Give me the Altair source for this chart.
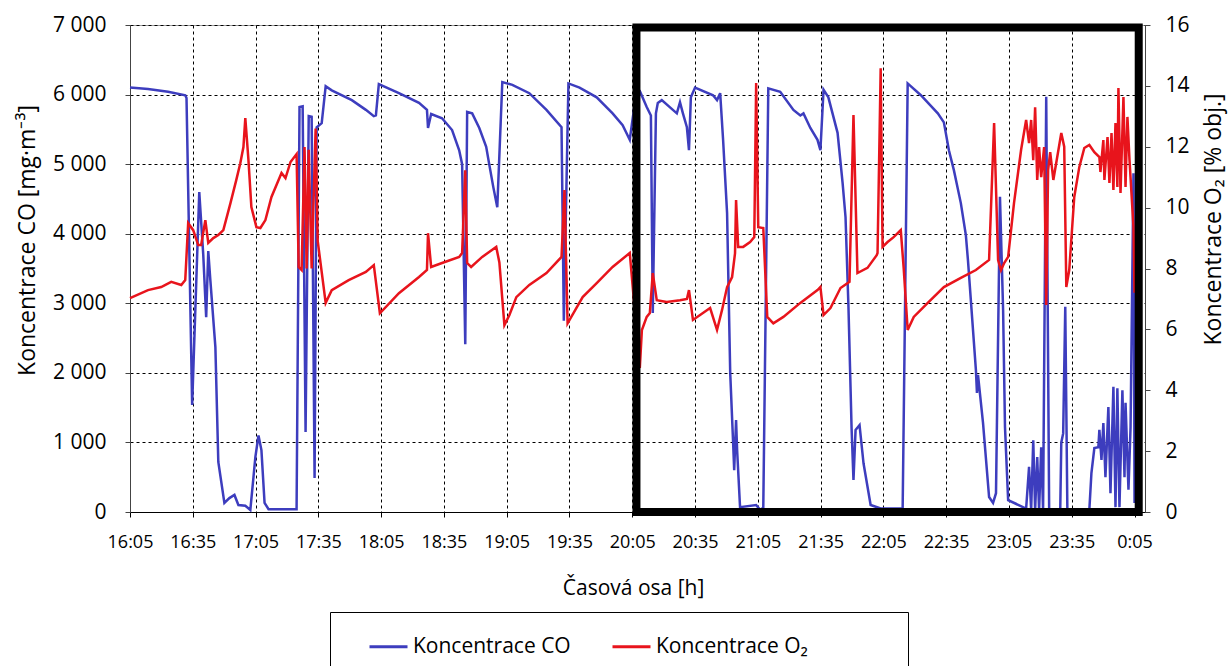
import altair as alt
import pandas as pd

# time in minutes after 16:05
co_t = [0, 8.6, 18.2, 26.4, 27.0, 29.7, 33.1, 35.0, 36.4, 37.4, 38.4, 40.8, 42.2, 45.1, 47.5, 49.9, 51.8, 55.1, 57.5, 59.0,
        59.9, 61.4, 62.8, 64.3, 66.2, 79.6, 81.0, 82.5, 83.9, 85.4, 86.8, 88.2, 89.2, 91.6, 93.5, 96.4, 106.0, 112.7, 116.5, 117.5,
        118.9, 128.5, 138.1, 141.9, 142.4, 143.9, 149.1, 153.9, 157.3, 158.7, 160.2, 161.1, 163.5, 166.9, 170.2, 171.7, 173.6, 175.5, 177.9, 182.7,
        190.8, 199.0, 206.2, 207.3, 209.5, 214.8, 223.0, 230.6, 235.4, 238.8, 242.2, 243.6, 246.9, 248.9, 249.8, 251.3, 252.2, 254.1, 259.4, 261.3,
        262.8, 264.2, 266.1, 267.1, 268.0, 270.0, 278.6, 280.5, 282.0, 283.4, 285.3, 286.8, 288.2, 288.7, 289.6, 290.1, 291.5, 299.2, 301.1, 302.6,
        305.0, 310.7, 317.0, 320.3, 321.8, 325.1, 328.5, 329.9, 331.4, 333.7, 338.1, 340.5, 341.9, 343.3, 344.8, 345.7, 346.7, 348.6, 350.5, 353.9,
        358.7, 369.2, 371.6, 377.9, 386.0, 388.9, 391.3, 393.7, 397.0, 399.4, 400.4, 404.2, 404.7, 405.2, 407.6, 410.5, 412.4, 413.8, 415.7, 417.2,
        418.1, 419.6, 428.2, 429.6, 430.6, 431.6, 432.5, 433.5, 434.4, 435.4, 436.3, 437.8, 439.2, 444.5, 445.0, 445.9, 446.9, 447.9, 458.4, 459.4,
        460.8, 462.7, 463.2, 464.2, 465.1, 466.1, 467.5, 468.5, 469.9, 470.9, 471.8, 472.8, 474.2, 475.2, 475.7, 477.1, 478.1, 479.5, 480.0]
co_v = [6100, 6080, 6040, 5990, 5950, 1540, 4600, 3700, 2800, 3750, 3330, 2370, 720, 130, 200, 245, 100, 90, 30, 500,
        790, 1100, 890, 130, 40, 40, 5820, 5830, 1150, 5690, 5680, 490, 5530, 5590, 6120, 6060, 5920, 5780, 5690, 5700,
        6150, 6020, 5880, 5780, 5520, 5720, 5660, 5490, 5200, 5000, 2410, 5750, 5730, 5520, 5250, 4990, 4670, 4380, 6180, 6140,
        6020, 5780, 5530, 2750, 6160, 6100, 5960, 5730, 5560, 5350, 6090, 6050, 5820, 5700, 2860, 5730, 5880, 5920, 5780, 5730,
        5890, 5730, 5530, 5200, 5960, 6100, 5990, 5920, 6020, 5350, 4300, 2000, 990, 600, 1320, 890, 70, 100, 30, 60,
        6090, 6040, 5780, 5700, 5730, 5520, 5350, 5200, 6070, 5960, 5450, 4730, 4240, 2950, 1200, 460, 1180, 1250, 700, 100,
        50, 50, 6160, 5990, 5730, 5600, 5200, 4910, 4440, 3980, 3620, 2040, 1710, 1970, 1280, 215, 130, 270, 4530, 2900,
        1220, 170, 50, 650, 30, 1030, 30, 790, 30, 930, 30, 5970, 30, 40, 1000, 1130, 2950, 30, 30, 560,
        920, 930, 1180, 750, 1280, 500, 1510, 270, 1800, 70, 1780, 70, 1750, 500, 1570, 320, 1220, 4870, 130]

o2_t = [0, 8.6, 14.9, 19.7, 24.5, 26.4, 27.8, 30.2, 32.6, 34.0, 36.0, 37.4, 39.8, 42.2, 44.6, 48.0, 50.8, 52.7, 54.2, 55.1,
        56.6, 58.0, 60.4, 62.3, 64.7, 67.6, 72.4, 74.3, 76.7, 79.6, 80.6, 82.0, 83.4, 84.4, 85.4, 86.8, 88.7, 89.7, 93.5, 96.4,
        104.5, 112.7, 116.5, 119.4, 128.5, 138.1, 141.9, 142.4, 143.9, 149.1, 157.3, 158.7, 160.2, 161.1, 163.0, 168.3, 175.0, 176.5, 178.9, 181.3,
        184.6, 190.8, 199.0, 206.2, 207.6, 209.1, 216.3, 223.0, 230.6, 238.8, 243.6, 244.6, 246.9, 248.4, 249.8, 251.7, 256.5, 262.8, 266.1, 267.1,
        269.0, 272.4, 277.2, 280.5, 282.9, 285.3, 287.7, 289.1, 289.6, 290.6, 293.0, 296.3, 298.3, 299.2, 300.2, 302.6, 304.5, 307.4, 312.2, 320.3,
        328.5, 329.9, 331.4, 334.7, 339.5, 343.8, 345.7, 347.6, 352.4, 356.8, 357.2, 358.7, 359.6, 362.0, 364.9, 368.3, 369.7, 371.6, 374.5, 381.2,
        388.9, 397.0, 404.2, 410.5, 412.9, 414.8, 416.2, 417.7, 419.6, 422.4, 425.8, 428.2, 429.6, 430.6, 431.6, 432.5, 433.5, 434.4, 435.4, 436.8,
        437.8, 438.7, 439.7, 441.2, 445.0, 446.4, 447.4, 448.8, 451.2, 453.6, 456.0, 458.4, 460.8, 463.2, 463.7, 465.1, 465.6, 467.1, 468.0, 469.0,
        469.9, 470.9, 471.8, 472.3, 473.3, 474.7, 475.7, 476.6, 477.6, 479.5, 480.0]
o2_v = [7.03, 7.29, 7.39, 7.56, 7.46, 7.62, 9.49, 9.26, 8.77, 8.77, 9.59, 8.84, 9.00, 9.10, 9.26, 10.15, 10.91, 11.46, 11.99, 12.94,
        11.56, 10.02, 9.36, 9.33, 9.59, 10.35, 11.14, 10.97, 11.5, 11.76, 8.05, 7.95, 11.99, 8.0, 11.9, 8.0, 12.6, 8.9, 6.87, 7.29,
        7.62, 7.89, 8.11, 6.53, 7.19, 7.72, 7.95, 9.16, 8.05, 8.18, 8.38, 8.51, 11.23, 8.18, 8.05, 8.38, 8.71, 8.2, 6.14, 6.47,
        7.06, 7.46, 7.85, 8.38, 10.58, 6.2, 7.06, 7.52, 8.05, 8.51, 4.73, 5.98, 6.41, 6.54, 7.85, 6.96, 6.90, 6.96, 7.0, 7.29,
        6.31, 6.47, 6.70, 5.98, 6.64, 7.39, 7.72, 8.5, 10.25, 8.71, 8.71, 8.87, 9.03, 14.09, 9.36, 9.33, 6.41, 6.2, 6.41, 6.87,
        7.29, 7.39, 6.47, 6.70, 7.36, 7.56, 13.04, 7.85, 8.02, 8.44, 8.51, 14.58, 8.71, 8.87, 9.03, 9.26, 8.0, 5.98, 6.41, 6.87,
        7.39, 7.69, 7.95, 8.28, 12.78, 8.28, 7.95, 8.18, 8.38, 10.15, 11.9, 12.88, 12.12, 12.88, 11.56, 13.3, 10.91, 11.99, 11.0, 11.99,
        6.8, 11.23, 11.82, 10.91, 12.45, 12.0, 7.39, 7.95, 10.35, 11.33, 11.96, 12.06, 11.82, 11.66, 11.17, 12.22, 10.91, 12.32, 10.81, 12.45,
        10.58, 12.78, 10.68, 13.93, 10.48, 13.63, 10.68, 12.98, 11.56, 9.36, 7.2]

series_names = ["Koncentrace CO", "Koncentrace O₂"]
series_colors = ["#3D3DBE", "#E8141C"]
# an empty, invisible legend slot keeps the legend frame as wide as in the original
legend_domain = series_names + ["\u00a0"]
legend_range = series_colors + ["transparent"]
x_ticks = list(range(0, 481, 30))
co_ticks = list(range(0, 7001, 1000))
o2_ticks = list(range(0, 17, 2))

# highlighted window: 20:05 .. 0:05
box_x = [242.0]
box_x2 = [482.0]
box_y = [0]
box_y2 = [6965]

FONT = "Open Sans"

co_df = pd.DataFrame({"t": co_t, "v": co_v, "s": series_names[0]})
o2_df = pd.DataFrame({"t": o2_t, "v": o2_v, "s": series_names[1]})
box_df = pd.DataFrame({"x": box_x, "x2": box_x2, "y": box_y, "y2": box_y2})

x_label = ("(floor((datum.value + 965) / 60) % 24) + ':' + "
           "(((datum.value + 965) % 60) < 10 ? '0' : '') + ((datum.value + 965) % 60)")

xscale = alt.Scale(domain=[0, 485], nice=False, zero=False)

color = alt.Color(
    "s:N",
    scale=alt.Scale(domain=legend_domain, range=legend_range),
    legend=alt.Legend(
        title=None, orient="none", legendX=200, legendY=587, direction="horizontal",
        symbolType="stroke", symbolSize=1444, symbolStrokeWidth=3, symbolOffset=24,
        labelFontSize=21, labelFont=FONT, labelColor="black", labelOffset=4, labelLimit=500,
        columnPadding=16, padding=14, strokeColor="black",
    ),
)

x_axis = alt.Axis(
    values=x_ticks, labelExpr=x_label, labelFontSize=18, labelFont=FONT, labelColor="black",
    labelPadding=16, tickSize=5, tickColor="black", domainColor="black",
    grid=True, gridColor="black", gridDash=[3, 3], gridWidth=1,
    title="Časová osa [h]", titleFontSize=21, titleFont=FONT, titleFontWeight="normal",
    titleColor="black", titleX=503, titleY=76, titleBaseline="middle", titleAlign="center",
    labelOverlap=False, labelFlush=False,
)

co_line = alt.Chart(co_df).mark_line(strokeWidth=2.5, interpolate="linear").encode(
    x=alt.X("t:Q", scale=xscale, axis=x_axis),
    y=alt.Y("v:Q", scale=alt.Scale(domain=[0, 7000], nice=False),
            axis=alt.Axis(values=co_ticks, labelExpr="replace(format(datum.value, ','), ',', ' ')",
                          labelFontSize=21, labelFont=FONT, labelColor="black", labelPadding=19,
                          tickSize=5, tickColor="#444", domainColor="#444",
                          grid=True, gridColor="black", gridDash=[3, 3], gridWidth=1,
                          title="Koncentrace CO [mg·m⁻³]", titleFontSize=23, titleFont=FONT,
                          titleFontWeight="normal", titleColor="black", titleAngle=270,
                          titleX=-103, titleY=215, titleAlign="center", titleBaseline="middle")),
    color=color,
)

o2_line = alt.Chart(o2_df).mark_line(strokeWidth=2.5, interpolate="linear").encode(
    x=alt.X("t:Q", scale=xscale, axis=x_axis),
    y=alt.Y("v:Q", scale=alt.Scale(domain=[0, 16], nice=False),
            axis=alt.Axis(orient="right", values=o2_ticks, labelFontSize=21, labelFont=FONT,
                          labelColor="black", labelPadding=15, tickSize=5, tickColor="#444",
                          domainColor="#444", grid=False,
                          title="Koncentrace O₂ [% obj.]", titleFontSize=23, titleFont=FONT,
                          titleFontWeight="normal", titleColor="black", titleAngle=270,
                          titleX=68, titleY=194, titleAlign="center", titleBaseline="middle")),
    color=color,
)

box = alt.Chart(box_df).mark_rect(filled=False, stroke="black", strokeWidth=8).encode(
    x=alt.X("x:Q", scale=xscale, axis=x_axis),
    x2="x2:Q",
    y=alt.Y("y:Q", scale=alt.Scale(domain=[0, 7000], nice=False), axis=None),
    y2="y2:Q",
)

chart = alt.layer(co_line, o2_line, box).resolve_scale(
    y="independent"
).properties(
    width=1015, height=487,
    autosize=alt.AutoSizeParams(type="none"),
    padding={"left": 130, "top": 25, "right": 83, "bottom": 154},
).configure(font=FONT).configure_view(stroke="#999", strokeWidth=1)

chart.save("out.html", embed_options={"renderer": "svg", "actions": False})
